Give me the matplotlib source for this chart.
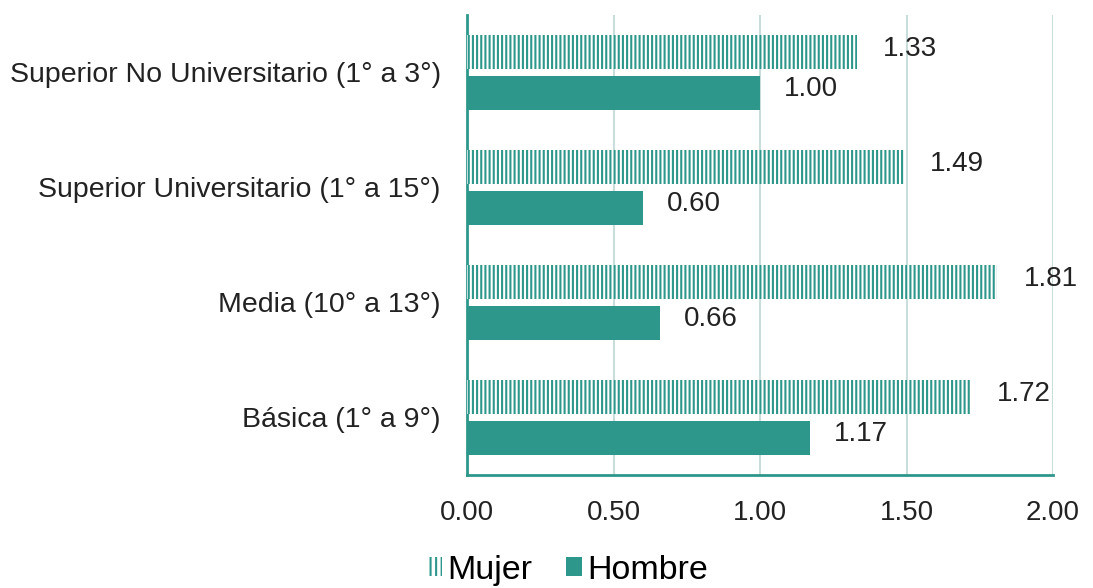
import numpy as np
import matplotlib.pyplot as plt
from matplotlib.patches import Patch

plt.rcParams['font.family'] = ['Liberation Sans', 'DejaVu Sans']
plt.rcParams['hatch.linewidth'] = 1.5

categorias = ['Básica (1° a 9°)', 'Media (10° a 13°)',
              'Superior Universitario (1° a 15°)', 'Superior No Universitario (1° a 3°)']
mujer = [1.72, 1.81, 1.49, 1.33]
hombre = [1.17, 0.66, 0.60, 1.00]

teal = '#2e978b'
grid_col = '#c9dedb'
txt = '#222222'
rayas = '||||'  # vertical stripes, ~4 px apart at 100 dpi

fig = plt.figure(figsize=(10.93, 5.88), dpi=100)
ax = fig.add_axes([0.4273, 0.1922, 0.5361, 0.7823])

y = np.arange(len(categorias))
h = 0.30
off = 0.18

ax.barh(y + off, mujer, height=h, color='white', edgecolor=teal,
        hatch=rayas, linewidth=0, zorder=3)
ax.barh(y - off, hombre, height=h, color=teal, linewidth=0, zorder=3)

for yi, v in zip(y, mujer):
    ax.annotate(f'{v:.2f}', (v, yi + off), xytext=(19, 2), textcoords='offset points',
                va='center', ha='left', fontsize=20, color=txt)
for yi, v in zip(y, hombre):
    ax.annotate(f'{v:.2f}', (v, yi - off), xytext=(17, 3), textcoords='offset points',
                va='center', ha='left', fontsize=20, color=txt)

ax.set_xlim(0, 2)
ax.set_ylim(-0.5, len(categorias) - 0.5)
ax.set_xticks([0, 0.5, 1.0, 1.5, 2.0])
ax.set_xticklabels(['0.00', '0.50', '1.00', '1.50', '2.00'], fontsize=20, color=txt)
ax.set_yticks(y)
ax.set_yticklabels(categorias, fontsize=20.5, color=txt)
ax.tick_params(length=0)
ax.tick_params(axis='x', pad=18)
ax.tick_params(axis='y', pad=19)

ax.grid(axis='x', color=grid_col, linewidth=1.5, zorder=0)
for s in ['top', 'right']:
    ax.spines[s].set_visible(False)
for s in ['left', 'bottom']:
    ax.spines[s].set_color(teal)
    ax.spines[s].set_linewidth(2)

handles = [Patch(facecolor='white', edgecolor=teal, hatch='|||', linewidth=0, label='Mujer'),
           Patch(facecolor=teal, linewidth=0, label='Hombre')]
fig.legend(handles=handles, loc='lower center', bbox_to_anchor=(0.519, -0.048), ncol=2,
           frameon=False, fontsize=24.5, handlelength=0.45, handleheight=0.45,
           handletextpad=0.15, columnspacing=1.0)

fig.savefig('out.png', dpi=100)
